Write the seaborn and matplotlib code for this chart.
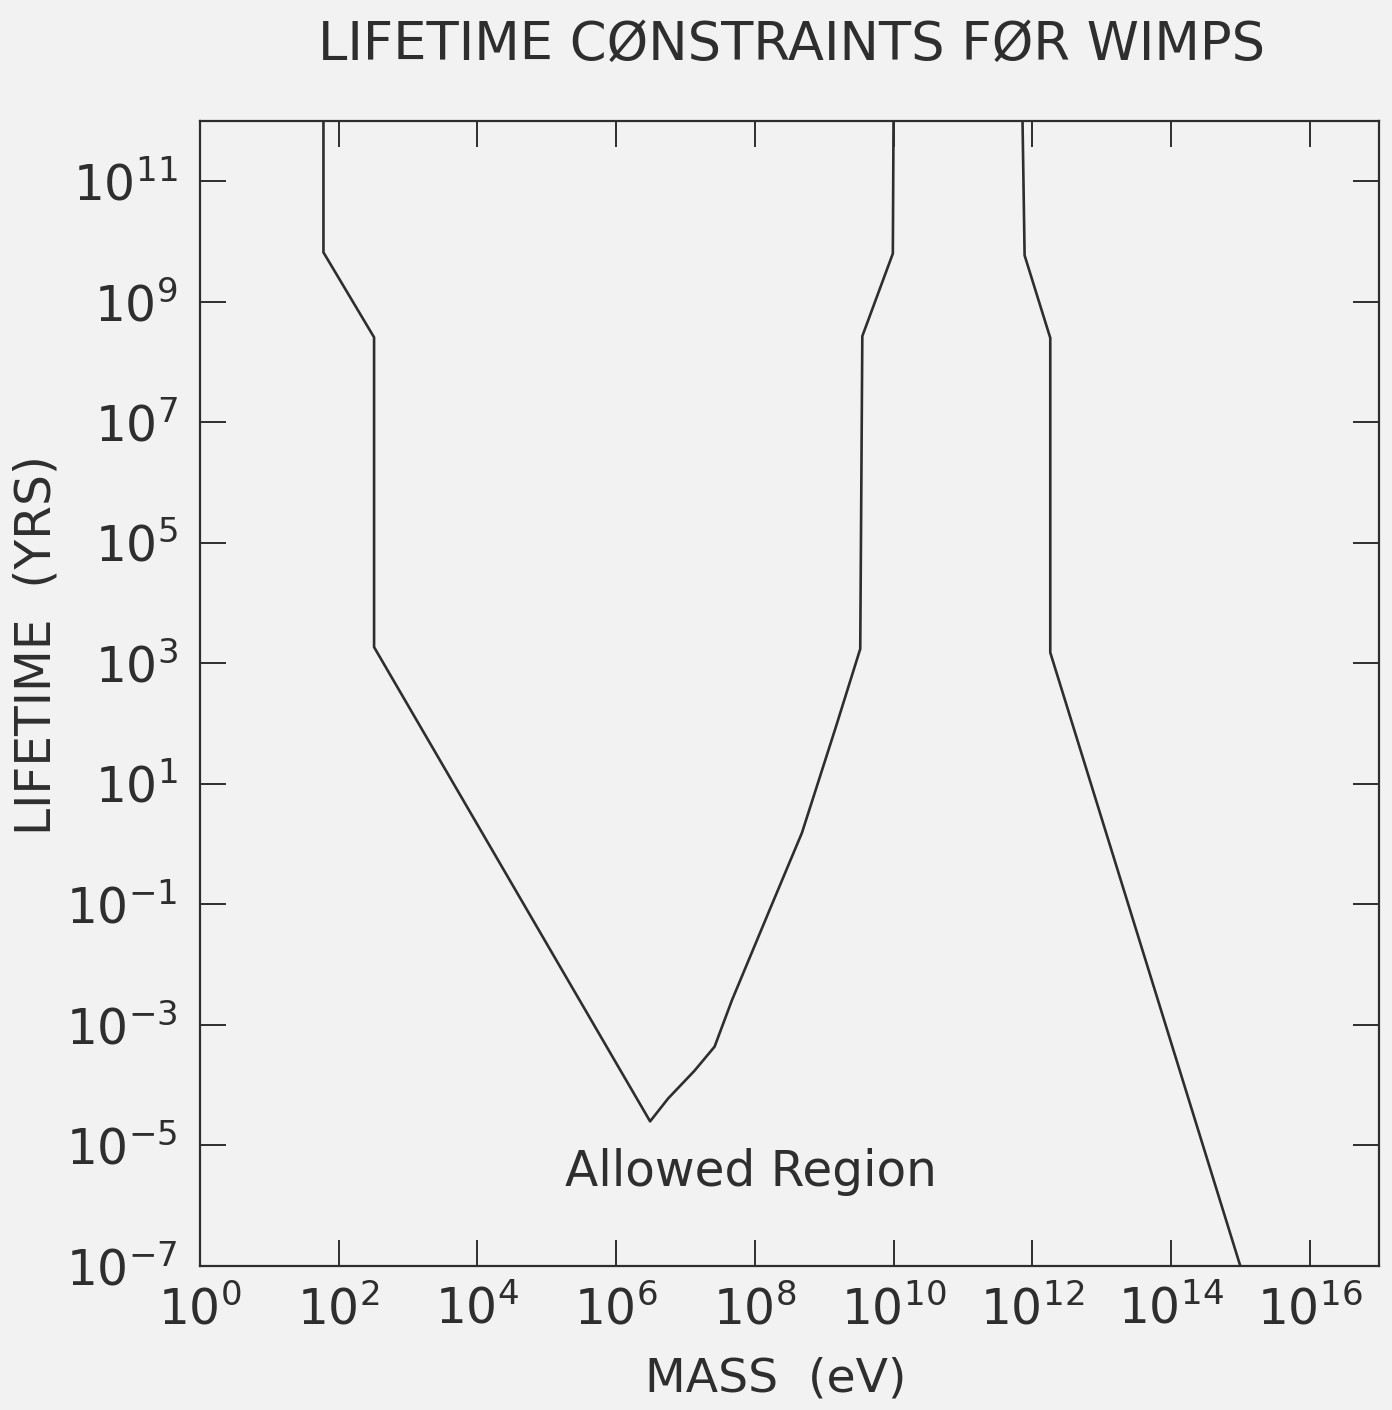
import numpy as np
import matplotlib
matplotlib.use("Agg")
import matplotlib.pyplot as plt
import seaborn as sns

# ---- data (log10 values) ----
# left "V" boundary: mass exponent (eV) and lifetime exponent (yrs)
v_curve_logm = [1.78, 1.78, 2.51, 2.51, 6.49, 6.75, 7.13, 7.42, 7.67, 8.21, 8.68, 9.17, 9.52, 9.55, 9.99, 10.0]
v_curve_logt = [12.0, 9.82, 8.41, 3.27, -4.60, -4.22, -3.76, -3.36, -2.59, -1.10, 0.19, 1.95, 3.24, 8.43, 9.80, 12.0]
# right boundary
r_curve_logm = [11.86, 11.89, 12.26, 12.26, 15.0]
r_curve_logt = [12.0, 9.77, 8.40, 3.18, -7.0]

x_tick_exp = list(range(0, 17, 2))
y_tick_exp = list(range(-7, 12, 2))
x_tick_labels = [f"$10^{{{k}}}$" for k in x_tick_exp]
y_tick_labels = [f"$10^{{{k}}}$" for k in y_tick_exp]

title = "LIFETIME CØNSTRAINTS FØR WIMPS"
xlabel = "MASS  (eV)"
ylabel = "LIFETIME  (YRS)"
annotation = "Allowed Region"

# ---- style ----
sns.set_theme(style="white")
plt.rcParams["font.family"] = ["DejaVu Sans"]
plt.rcParams["mathtext.default"] = "regular"
ink = "#2e2e2e"
bg = "#f2f2f2"

fig = plt.figure(figsize=(13.92, 14.10), dpi=100, facecolor=bg)
ax = fig.add_axes([200 / 1392, 1 - 1266 / 1410, 1179 / 1392, 1145 / 1410])
ax.set_facecolor(bg)

sns.lineplot(x=np.power(10.0, v_curve_logm), y=np.power(10.0, v_curve_logt),
             sort=False, estimator=None, color=ink, lw=1.9, ax=ax)
sns.lineplot(x=np.power(10.0, r_curve_logm), y=np.power(10.0, r_curve_logt),
             sort=False, estimator=None, color=ink, lw=1.9, ax=ax)

ax.set_xscale("log")
ax.set_yscale("log")
ax.set_xlim(1e0, 1e17)
ax.set_ylim(1e-7, 1e12)

ax.set_xticks([10.0 ** k for k in x_tick_exp])
ax.set_xticklabels(x_tick_labels)
ax.set_yticks([10.0 ** k for k in y_tick_exp])
ax.set_yticklabels(y_tick_labels)
ax.minorticks_off()
ax.tick_params(axis="both", which="major", direction="in", length=19, width=1.4,
               color=ink, labelcolor=ink, labelsize=35, top=True, right=True,
               bottom=True, left=True)
ax.tick_params(axis="x", pad=14)
ax.tick_params(axis="y", pad=16)
for s in ax.spines.values():
    s.set_color(ink)
    s.set_linewidth(1.6)

ax.set_xlabel(xlabel, fontsize=34, color=ink)
ax.set_ylabel(ylabel, fontsize=35, color=ink)
ax.xaxis.set_label_coords(0.488, -0.079)
ax.yaxis.set_label_coords(-0.118, 0.542)

ax.text(10 ** 7.94, 10 ** -5.67, annotation, ha="center", va="baseline",
        fontsize=35, color=ink)

fig.text(792 / 1392, 1 - 60 / 1410, title, ha="center", va="baseline",
         fontsize=38, color=ink)

fig.savefig("out.png", dpi=100, facecolor=bg)
